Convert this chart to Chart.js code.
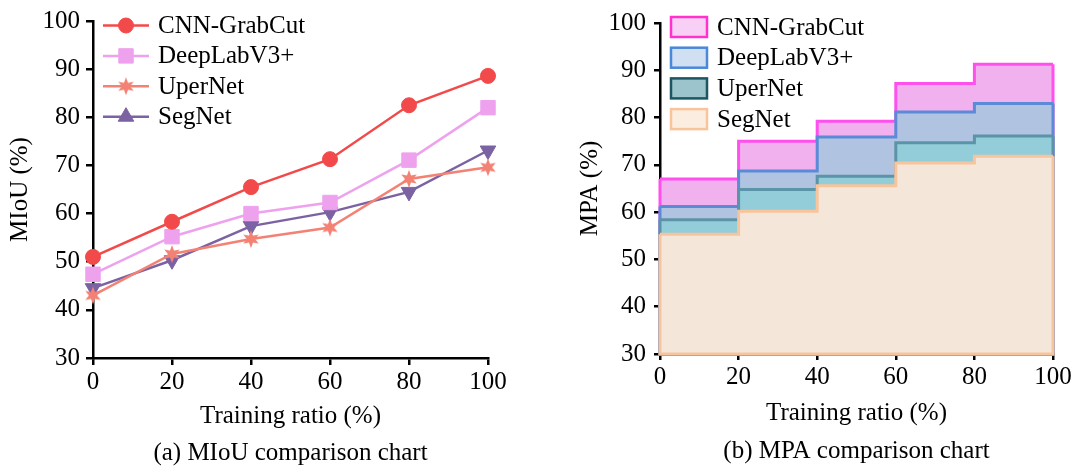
<!DOCTYPE html>
<html>
<head>
<meta charset="utf-8">
<script src="https://cdn.jsdelivr.net/npm/chart.js@4.4.1/dist/chart.umd.min.js"></script>
<style>
  body { margin: 0; background: #fff; }
  #wrap { position: relative; width: 1083px; height: 468px; }
  #miouChart { position: absolute; left: 0; top: 0; }
  #mpaChart { position: absolute; left: 541px; top: 0; }
</style>
</head>
<body>
<div id="wrap">
  <canvas id="miouChart" width="541" height="468"></canvas>
  <canvas id="mpaChart" width="542" height="468"></canvas>
</div>
<script>
const ratios = [0, 20, 40, 60, 80, 100];
const yTicks = [30, 40, 50, 60, 70, 80, 90, 100];
const methods = ['CNN-GrabCut', 'DeepLabV3+', 'UperNet', 'SegNet'];

// (a) MIoU, one value per training ratio
const miouCnn  = [51.0, 58.3, 65.5, 71.3, 82.5, 88.6];
const miouDeep = [47.4, 55.2, 60.0, 62.3, 71.1, 82.0];
const miouUper = [43.0, 51.6, 54.7, 57.1, 67.2, 69.6];
const miouSeg  = [44.5, 50.3, 57.4, 60.3, 64.5, 73.1];

// (b) MPA, one value per step (0-20, 20-40, ... 80-100)
const mpaCnn  = [67.0, 75.0, 79.2, 87.2, 91.3];
const mpaDeep = [61.2, 68.7, 75.9, 81.2, 83.0];
const mpaUper = [58.4, 64.8, 67.6, 74.7, 76.1];
const mpaSeg  = [55.3, 60.2, 65.6, 70.4, 71.8];

const serif = '"Liberation Serif", "Times New Roman", serif';
const fontSize = 25;
Chart.defaults.font.family = serif;
Chart.defaults.font.size = fontSize;
Chart.defaults.color = '#000';

function makeStar(color, r) {
  const c = document.createElement('canvas');
  c.width = c.height = r * 2 + 2;
  const g = c.getContext('2d');
  g.fillStyle = color;
  g.beginPath();
  for (let k = 0; k < 12; k++) {
    const a = -Math.PI / 2 + k * Math.PI / 6;
    const rr = k % 2 ? r * 0.45 : r;
    g.lineTo(c.width / 2 + rr * Math.cos(a), c.height / 2 + rr * Math.sin(a));
  }
  g.closePath();
  g.fill();
  return c;
}

// each step value holds until the next ratio, last one up to 100
function steps(vals) {
  return ratios.map((r, i) => ({ x: r, y: vals[Math.min(i, vals.length - 1)] }));
}

function innerLegend(cfg) {
  return {
    id: 'innerLegend',
    afterDraw(chart) {
      const ctx = chart.ctx;
      ctx.save();
      ctx.font = fontSize + 'px ' + serif;
      ctx.textBaseline = 'middle';
      ctx.textAlign = 'left';
      chart.data.datasets.forEach((ds, i) => {
        const y = cfg.top + i * cfg.gap;
        cfg.symbol(ctx, ds, i, y);
        ctx.fillStyle = '#000';
        ctx.fillText(ds.label, cfg.textX, y + 1);
      });
      ctx.restore();
    }
  };
}

// outline the left, right and bottom sides of each filled step area
const areaEdges = {
  id: 'areaEdges',
  afterDatasetDraw(chart, args) {
    const ds = chart.data.datasets[args.index];
    const pts = args.meta.data;
    const y = chart.scales.y;
    const base = y.getPixelForValue(y.min);
    const first = pts[0], last = pts[pts.length - 1];
    const ctx = chart.ctx;
    ctx.save();
    ctx.strokeStyle = ds.borderColor;
    ctx.lineWidth = ds.borderWidth;
    ctx.beginPath();
    ctx.moveTo(first.x, first.y);
    ctx.lineTo(first.x, base);
    ctx.lineTo(last.x, base);
    ctx.lineTo(last.x, last.y);
    ctx.stroke();
    ctx.restore();
  }
};

function axes(xTitle, yTitle, yTitlePad, yWidth, xHeight, tickLen, yTickPad, titleGap, titleBottom) {
  return {
    x: {
      type: 'linear', min: 0, max: 100,
      afterBuildTicks: s => { s.ticks = ratios.map(v => ({ value: v })); },
      ticks: { padding: 2, color: '#000' },
      grid: { drawOnChartArea: false, drawTicks: true, tickLength: tickLen, color: '#000', lineWidth: 2.5 },
      border: { color: '#000', width: 2.5 },
      title: { display: true, text: xTitle, color: '#000',
        font: { size: fontSize, lineHeight: titleGap + 'px' }, padding: { top: 0, bottom: titleBottom } },
      afterFit: s => { s.height = xHeight; }
    },
    y: {
      min: 30, max: 100,
      afterBuildTicks: s => { s.ticks = yTicks.map(v => ({ value: v })); },
      ticks: { padding: yTickPad, color: '#000' },
      grid: { drawOnChartArea: false, drawTicks: true, tickLength: tickLen, color: '#000', lineWidth: 2.5 },
      border: { color: '#000', width: 2.5 },
      title: { display: true, text: yTitle, color: '#000', padding: { top: yTitlePad, bottom: 0 } },
      afterFit: s => { s.width = yWidth; }
    }
  };
}

// ---------- (a) MIoU line chart ----------
const lineColors = ['#f24a4a', '#eea2ee', '#f38275', '#7b62a3'];
const lineSets = [miouCnn, miouDeep, miouUper, miouSeg];
const markers = ['circle', 'rect', makeStar('#f38275', 9), 'triangle'];
const markerSize = [7.5, 10.2, 9, 9];

new Chart('miouChart', {
  type: 'line',
  data: {
    datasets: lineSets.map((vals, i) => ({
      label: methods[i],
      data: ratios.map((r, k) => ({ x: r, y: vals[k] })),
      borderColor: lineColors[i],
      backgroundColor: lineColors[i],
      borderWidth: 2.5,
      pointStyle: markers[i],
      pointRadius: markerSize[i],
      pointRotation: i === 3 ? 180 : 0,
      pointBackgroundColor: lineColors[i],
      pointBorderColor: lineColors[i],
      pointBorderWidth: 1,
      fill: false,
      tension: 0,
      clip: false
    }))
  },
  options: {
    responsive: false,
    animation: false,
    devicePixelRatio: 1,
    layout: { padding: { top: 19, right: 53, left: 0, bottom: 0 } },
    plugins: { legend: { display: false }, tooltip: { enabled: false } },
    scales: axes(['Training ratio (%)', '(a) MIoU comparison chart'], 'MIoU (%)', 5, 93, 110, 7, 6, 37, -4)
  },
  plugins: [innerLegend({
    top: 25.5, gap: 30.4, textX: 158,
    symbol(ctx, ds, i, y) {
      ctx.strokeStyle = ds.borderColor;
      ctx.lineWidth = 2.5;
      ctx.beginPath();
      ctx.moveTo(103, y);
      ctx.lineTo(149, y);
      ctx.stroke();
      ctx.fillStyle = ds.pointBackgroundColor;
      ctx.strokeStyle = ds.pointBorderColor;
      ctx.lineWidth = 1;
      Chart.helpers.drawPoint(ctx, { pointStyle: ds.pointStyle, radius: ds.pointRadius, rotation: 0, borderWidth: 1 }, 126, y);
    }
  })]
});

// ---------- (b) MPA stepped area chart ----------
const areaFill = ['#f1b1ef', '#b0c4e1', '#93cdd9', '#f5e6da'];
const areaEdge = ['#ff4fec', '#5b8ad6', '#5b93a8', '#f8c49c'];
const keyFill = ['#f8d0f5', '#d0dff1', '#9cc4cd', '#fcede1'];
const keyEdge = ['#ff33cc', '#4a88d8', '#1e5562', '#f8c49a'];
const areaSets = [mpaCnn, mpaDeep, mpaUper, mpaSeg];

new Chart('mpaChart', {
  type: 'line',
  data: {
    datasets: areaSets.map((vals, i) => ({
      label: methods[i],
      data: steps(vals),
      stepped: 'before',
      borderColor: areaEdge[i],
      backgroundColor: areaFill[i],
      borderWidth: 3,
      pointRadius: 0,
      fill: 'origin',
      order: 4 - i
    }))
  },
  options: {
    responsive: false,
    animation: false,
    devicePixelRatio: 1,
    layout: { padding: { top: 15, right: 30, left: 0, bottom: 0 } },
    plugins: { legend: { display: false }, tooltip: { enabled: false } },
    scales: axes(['Training ratio (%)', '(b) MPA comparison chart'], 'MPA (%)', 34, 119, 114, 6, 8, 38, -2)
  },
  plugins: [areaEdges, innerLegend({
    top: 27, gap: 30.7, textX: 176,
    symbol(ctx, ds, i, y) {
      ctx.fillStyle = keyFill[i];
      ctx.strokeStyle = keyEdge[i];
      ctx.lineWidth = 2.5;
      ctx.fillRect(130, y - 10, 36, 20);
      ctx.strokeRect(130, y - 10, 36, 20);
    }
  })]
});
</script>
</body>
</html>
